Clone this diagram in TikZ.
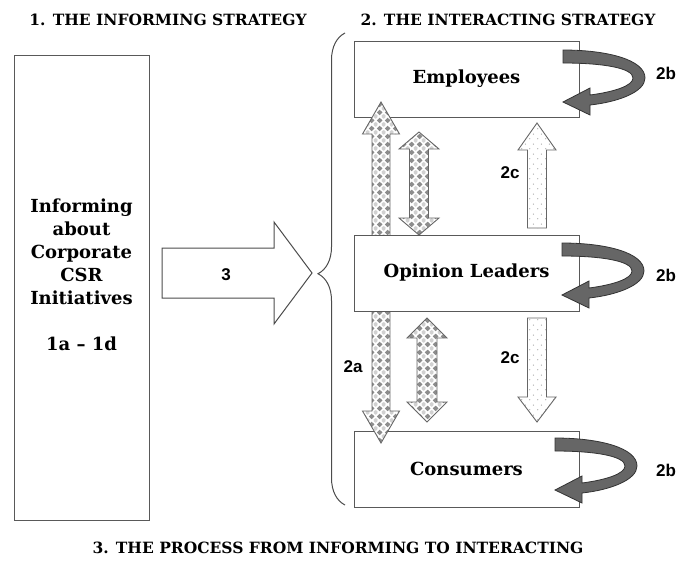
\documentclass[tikz,border=0pt]{standalone}
\usepackage{fontspec}
\setmainfont{DejaVu Serif}
\newfontfamily\labelfont{Liberation Sans}
\usepackage{tikz}
\usetikzlibrary{calc,patterns.meta,decorations.pathreplacing}

\tikzdeclarepattern{
  name=diamondcheck,
  type=colored,
  bounding box={(0pt,0pt) and (8pt,8pt)},
  tile size={(8pt,8pt)},
  code={
    \fill[white] (0pt,0pt) rectangle (8pt,8pt);
    \fill[black!45] (4pt,0.9pt) -- (7.1pt,4pt) -- (4pt,7.1pt) -- (0.9pt,4pt) -- cycle;
    \foreach \cx/\cy in {0/0,8/0,0/8,8/8}
      \fill[black!18] (\cx pt,\cy pt) ++(0pt,-2pt) -- ++(2pt,2pt) -- ++(-2pt,2pt) -- ++(-2pt,-2pt) -- cycle;
  }
}
\tikzdeclarepattern{
  name=sparsedots,
  type=colored,
  bounding box={(0pt,0pt) and (8pt,10pt)},
  tile size={(8pt,10pt)},
  code={
    \fill[white] (0pt,0pt) rectangle (8pt,10pt);
    \fill[black!35] (2pt,2.5pt) circle (0.7pt);
    \fill[black!35] (6pt,7.5pt) circle (0.7pt);
  }
}

% block arrow with a head at both ends: style, top tip, bottom tip, shaft half, head half, head length
\newcommand{\twoway}[6]{%
  \draw[#1] (#2) -- ($(#2)+(#5,#6)$) -- ($(#2)+(#4,#6)$) -- ($(#3)+(#4,-#6)$) -- ($(#3)+(#5,-#6)$)
    -- (#3) -- ($(#3)+(-#5,-#6)$) -- ($(#3)+(-#4,-#6)$) -- ($(#2)+(-#4,#6)$) -- ($(#2)+(-#5,#6)$) -- cycle;}
% block arrow with one head: style, tail, tip, shaft half, head half, signed head length
\newcommand{\oneway}[6]{%
  \draw[#1] ($(#2)+(-#4,0)$) -- ($(#3)+(-#4,#6)$) -- ($(#3)+(-#5,#6)$) -- (#3)
    -- ($(#3)+(#5,#6)$) -- ($(#3)+(#4,#6)$) -- ($(#2)+(#4,0)$) -- cycle;}
% curved arrow turning back into its box
\newcommand{\selfturn}[1]{%
  \draw[selfarrow, shift={(#1)}] (0,0) .. controls (45,0) and (82,10) .. (82,28)
    .. controls (82,42) and (55,52) .. (27,55) -- (27,65) -- (0,52) -- (27,38) -- (27,45)
    .. controls (50,42) and (70,36) .. (70,28) .. controls (70,18) and (40,13) .. (0,13) -- cycle;}

\begin{document}
\begin{tikzpicture}[x=1pt,y=-1pt,
    box/.style={draw=black!65, line width=1pt, fill=white, inner sep=0pt,
      font=\fontsize{18}{22}\selectfont\bfseries},
    title/.style={font=\fontsize{15.5}{18}\selectfont\bfseries},
    num/.style={font=\labelfont\fontsize{17}{20}\selectfont\bfseries},
    checkarrow/.style={draw=black!60, line width=0.9pt, pattern=diamondcheck},
    dotarrow/.style={draw=black!60, line width=0.9pt, pattern=sparsedots},
    bigarrow/.style={draw=black!70, line width=1pt, fill=white},
    selfarrow/.style={draw=black!80, line width=0.8pt, fill=black!60},
    bracestyle/.style={draw=black!70, line width=1pt}]
  \useasboundingbox (0,0) rectangle (687,571);

  % titles
  \node[title] (t1) at (168,20) {1. THE INFORMING STRATEGY};
  \node[title] (t2) at (508,20) {2. THE INTERACTING STRATEGY};
  \node[title] (t3) at (338,548) {3. THE PROCESS FROM INFORMING TO INTERACTING};

  % informing strategy
  \node[box, minimum width=135, minimum height=465] (inform) at (81.5,287.5) {};
  \node[align=center, font=\fontsize{18}{23}\selectfont\bfseries] (informtext) at (81.5,275)
    {Informing\\about\\Corporate\\CSR\\Initiatives\\[23pt]1a \textendash{} 1d};

  % process arrow
  \coordinate (threetail) at (162,273);
  \coordinate (threetip) at (312,273);
  \draw[bigarrow] (threetail) ++(0,-25) -- ++(112,0) -- ++(0,-26) -- (threetip)
    -- ++(-38,51) -- ++(0,-26) -- ++(-112,0) -- cycle;
  \node[num] (three) at (226,275) {3};

  \draw[bracestyle, decorate, decoration={brace, amplitude=27pt, aspect=0.49}] (345,505) -- (345,33);

  % interacting strategy
  \node[box, minimum width=225, minimum height=76] (emp) at (466.5,79) {Employees};
  \node[box, minimum width=225, minimum height=76] (cons) at (466.5,469) {Consumers};

  \coordinate (atop) at (381,102);
  \coordinate (abot) at (381,443);
  \coordinate (btop) at (419,132);
  \coordinate (bbot) at (419,235);
  \coordinate (ctop) at (427,318);
  \coordinate (cbot) at (427,422);
  \coordinate (uptail) at (537,228);
  \coordinate (uptip) at (537,123);
  \coordinate (dntail) at (537,318);
  \coordinate (dntip) at (537,422);

  \twoway{checkarrow}{atop}{abot}{9}{18.5}{32}
  \twoway{checkarrow}{btop}{bbot}{9.5}{20}{17}
  \twoway{checkarrow}{ctop}{cbot}{10}{20}{20}
  \oneway{dotarrow}{uptail}{uptip}{9.5}{19}{27}
  \oneway{dotarrow}{dntail}{dntip}{9.5}{19}{-25}

  \node[box, minimum width=225, minimum height=76] (lead) at (466.5,273) {Opinion Leaders};

  \coordinate (empturn) at (563,50);
  \coordinate (leadturn) at (562,243);
  \coordinate (consturn) at (555,438);
  \selfturn{empturn}
  \selfturn{leadturn}
  \selfturn{consturn}

  \node[num] (b1) at (666,73) {2b};
  \node[num] (b2) at (666,275) {2b};
  \node[num] (b3) at (666,470) {2b};
  \node[num] (c1) at (510,173) {2c};
  \node[num] (c2) at (510,358) {2c};
  \node[num] (a1) at (353,367) {2a};
\end{tikzpicture}
\end{document}
